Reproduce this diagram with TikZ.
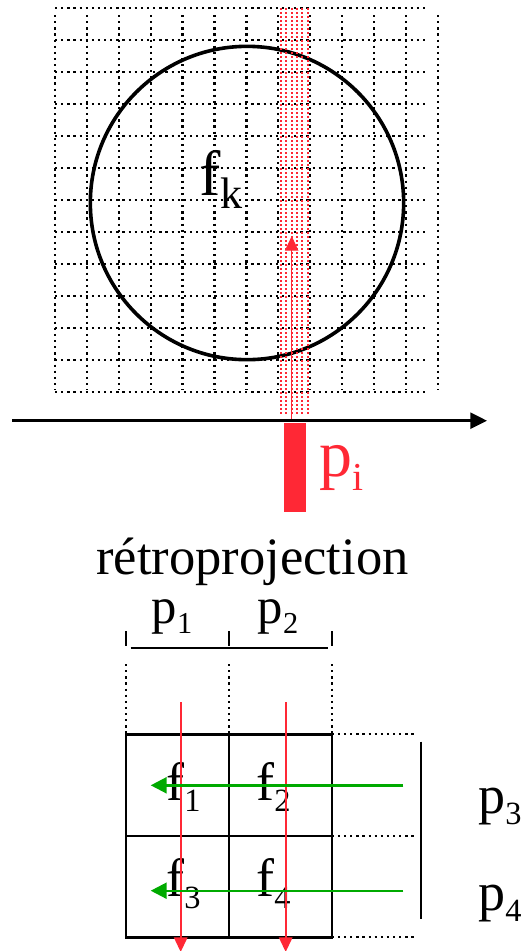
\documentclass[tikz,border=0pt]{standalone}
\usepackage{fontspec}
\setmainfont{Liberation Serif}
\usepackage{graphicx}
\usetikzlibrary{arrows.meta}
\definecolor{mRed}{HTML}{FF2835}
\definecolor{mGreen}{HTML}{00AA00}
\newcommand{\idx}[1]{\raisebox{-0.21em}{\scalebox{0.6}{#1}}}

\begin{document}
\begin{tikzpicture}[x=0.75pt, y=-0.75pt,
      gdot/.style={line width=1.7pt, dash pattern=on 1.7pt off 2.9pt},
      rdot/.style={mRed, line width=1.3pt, dash pattern=on 1.3pt off 1.7pt},
      lbl/.style={inner sep=0, anchor=base west, font=\fontsize{40.5}{48}\selectfont},
      big/.style={lbl, font=\fontsize{48}{56}\selectfont},
      ray/.style={mRed, line width=1.5pt, -{Triangle[length=11pt, width=10pt]}},
      sum/.style={mGreen, line width=1.8pt, -{Triangle[length=12pt, width=12pt]}}]
    \useasboundingbox (0,0) rectangle (523,951);

    % image grid
    \foreach \k in {0,...,12} {
      \draw[gdot] (55,8+32*\k) -- (425,8+32*\k);
      \draw[gdot] (55+31.9*\k,15) -- (55+31.9*\k,390);
    }
    \node[circle, draw, line width=2.7pt, minimum size=235pt] (obj) at (247,203) {};
    \node[big] (fk) at (199,195) {f\idx{\scalebox{1.15}{k}}};

    % projection ray
    \foreach \x in {281,286.3,291.7,297,302.3,307.7}
      \draw[rdot] (\x,8) -- (\x,415);
    \coordinate (rayB) at (291.7,420);
    \coordinate (rayT) at (291.7,236);
    \draw[ray, line width=0.8pt] (rayB) -- (rayT);

    \coordinate (axL) at (12,420.7);
    \coordinate (axR) at (487,420.7);
    \draw[line width=2pt, -{Triangle[length=12.5pt, width=12pt]}] (axL) -- (axR);
    \fill[mRed] (284,422.7) rectangle (306,511.7);
    \node[big, text=mRed, font=\fontsize{49.5}{56}\selectfont] (pi) at (319,476.7) {p\idx{i}};

    \node[inner sep=0, anchor=base, font=\fontsize{39.4}{48}\selectfont] (retro) at (252.5,574.5) {rétroprojection};

    % backprojection
    \node[lbl, anchor=base, font=\fontsize{38}{46}\selectfont] (p1) at (172,623) {p\idx{1}};
    \node[lbl, anchor=base, font=\fontsize{38}{46}\selectfont] (p2) at (278,623) {p\idx{2}};
    \draw[line width=1.8pt] (130.7,647.7) -- (327.7,647.7);
    \foreach \x in {126,229,331.7} {
      \draw[line width=1.8pt] (\x,631) -- (\x,646);
      \draw[gdot] (\x,664) -- (\x,734);
    }
    \draw[line width=1.8pt] (126,734.3) rectangle (331.7,937.3);
    \draw[line width=1.8pt] (229,734.3) -- (229,937.3);
    \draw[line width=1.8pt] (126,836) -- (331.7,836);
    \foreach \y in {734.3,836,937.3}
      \draw[gdot] (331.7,\y) -- (415,\y);
    \draw[line width=1.8pt] (421,741.7) -- (421,919.3);

    \node[lbl] (f1) at (166,800) {f\idx{1}};
    \node[lbl] (f2) at (256,800) {f\idx{2}};
    \node[lbl] (f3) at (166,896.7) {f\idx{3}};
    \node[lbl] (f4) at (256,896.7) {f\idx{4}};
    \node[lbl] (p3) at (478,813) {p\idx{3}};
    \node[lbl] (p4) at (478,910) {p\idx{4}};

    \coordinate (r1T) at (180.7,702.3);
    \coordinate (r1B) at (180.7,952);
    \coordinate (r2T) at (285.7,702.3);
    \coordinate (r2B) at (285.7,952);
    \draw[ray] (r1T) -- (r1B);
    \draw[ray] (r2T) -- (r2B);

    \coordinate (g1R) at (403.3,785.3);
    \coordinate (g1L) at (150.7,785.3);
    \coordinate (g2R) at (403.3,890.7);
    \coordinate (g2L) at (150.7,890.7);
    \draw[sum] (g1R) -- (g1L);
    \draw[sum] (g2R) -- (g2L);
  \end{tikzpicture}
\end{document}
